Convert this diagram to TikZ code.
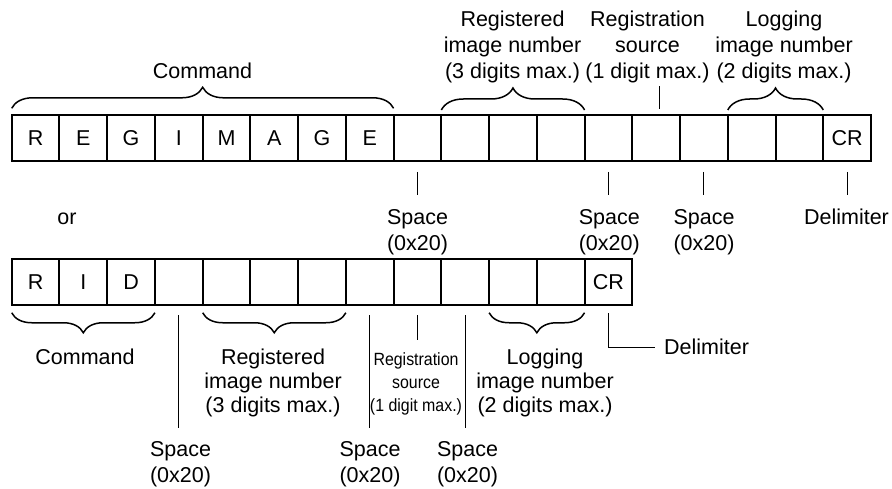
\documentclass[tikz,border=0pt]{standalone}
\usepackage{fontspec}
\setmainfont{Liberation Sans}
\usepackage{graphicx}
\usetikzlibrary{decorations.pathreplacing}
\newcommand{\stacklbl}[1]{\begin{tabular}[t]{@{}c@{}}#1\end{tabular}}
\begin{document}
\begin{tikzpicture}[x=1pt,y=-1pt,
  cell/.style={draw, line width=2pt, minimum width=47.74pt, minimum height=46pt,
    inner sep=0pt, outer sep=0pt, font=\fontsize{21.5}{25}\selectfont},
  lbl/.style={inner sep=0pt, anchor=base, font=\fontsize{21.5}{25.8}\selectfont},
  lblb/.style={inner sep=0pt, anchor=base, font=\fontsize{21.5}{24.2}\selectfont},
  lbls/.style={inner sep=0pt, anchor=base, font=\fontsize{21.5}{25.6}\selectfont},
  tick/.style={line width=1pt},
  brc/.style={decorate, line width=1.5pt},
]
\useasboundingbox (0,0) rectangle (892,489);

% top row
\foreach \t [count=\i from 0] in {R,E,G,I,M,A,G,E,,,,,,,,,,CR}
  \node[cell] (t\i) at ({11.7+(\i+0.5)*47.74},138) {\t};
% bottom row
\foreach \t [count=\i from 0] in {R,I,D,,,,,,,,,,CR}
  \node[cell] (b\i) at ({11.7+(\i+0.5)*47.74},282.25) {\t};

% top braces
\draw[brc, decoration={brace, amplitude=21pt, raise=6.7pt}] (t0.north west) -- (t7.north east);
\draw[brc, decoration={brace, amplitude=22pt, raise=5pt}] (t9.north west) -- (t11.north east);
\draw[brc, decoration={brace, amplitude=22pt, raise=5pt}] (t15.north west) -- (t16.north east);

% top labels
\node[lbl] (cmdT) at (202.5,78.3) {Command};
\node[lbl] (regT) at (512.5,26.7) {\stacklbl{Registered\\image number\\(3 digits max.)}};
\node[lbl] (srcT) at (647.5,26.7) {\stacklbl{Registration\\source\\(1 digit max.)}};
\node[lbl] (logT) at (784,26.7) {\stacklbl{Logging\\image number\\(2 digits max.)}};
\draw[tick] ([xshift=3.5pt,yshift=6pt]t13.north) -- ++(0,-23);

% labels under top row
\node[lbl] (orL) at (67,224.5) {or};
\node[lbls] (s8) at (417.5,224.5) {\stacklbl{Space\\(0x20)}};
\node[lbls] (s12) at (609.3,224.5) {\stacklbl{Space\\(0x20)}};
\node[lbls] (s14) at (704,224.5) {\stacklbl{Space\\(0x20)}};
\node[lbl] (dT) at (846.5,224.5) {Delimiter};
\draw[tick] ([yshift=-11pt]t8.south) -- ++(0,23);
\draw[tick] ([yshift=-11pt]t12.south) -- ++(0,23);
\draw[tick] ([yshift=-11pt]t14.south) -- ++(0,23);
\draw[tick] ([yshift=-11pt]t17.south) -- ++(0,23);

% bottom braces
\draw[brc, decoration={brace, amplitude=20pt, raise=7.5pt}] (b2.south east) -- (b0.south west);
\draw[brc, decoration={brace, amplitude=20pt, raise=7.5pt}] (b6.south east) -- (b4.south west);
\draw[brc, decoration={brace, amplitude=20pt, raise=7.5pt}] (b11.south east) -- (b10.south west);

% bottom labels
\node[lbl] (cmdB) at (85,364) {Command};
\node[lblb] (regB) at (273,364) {\stacklbl{Registered\\image number\\(3 digits max.)}};
\node[inner sep=0pt, anchor=base] (srcB) at (416,365)
  {\scalebox{0.9}[1]{\fontsize{17.7}{23.3}\selectfont\stacklbl{Registration\\source\\(1 digit max.)}}};
\node[lblb] (logB) at (545,364) {\stacklbl{Logging\\image number\\(2 digits max.)}};
\node[lbls] (bs3) at (180.5,456.7) {\stacklbl{Space\\(0x20)}};
\node[lbls] (bs7) at (370,456.7) {\stacklbl{Space\\(0x20)}};
\node[lbls] (bs9) at (467.5,456.7) {\stacklbl{Space\\(0x20)}};
\draw[tick] ([yshift=-10pt]b3.south) -- ++(0,113);
\draw[tick] ([yshift=-10pt]b7.south) -- ++(0,113);
\draw[tick] ([yshift=-10pt]b9.south) -- ++(0,113);
\draw[tick] ([yshift=-10pt]b8.south) -- ++(0,25);

% bottom delimiter
\node[anchor=west, inner xsep=9pt, inner ysep=0pt, font=\fontsize{21.5}{25}\selectfont] (dB) at (655,347) {Delimiter};
\draw[tick] ([yshift=-8pt]b12.south) |- (dB.west);
\end{tikzpicture}
\end{document}
